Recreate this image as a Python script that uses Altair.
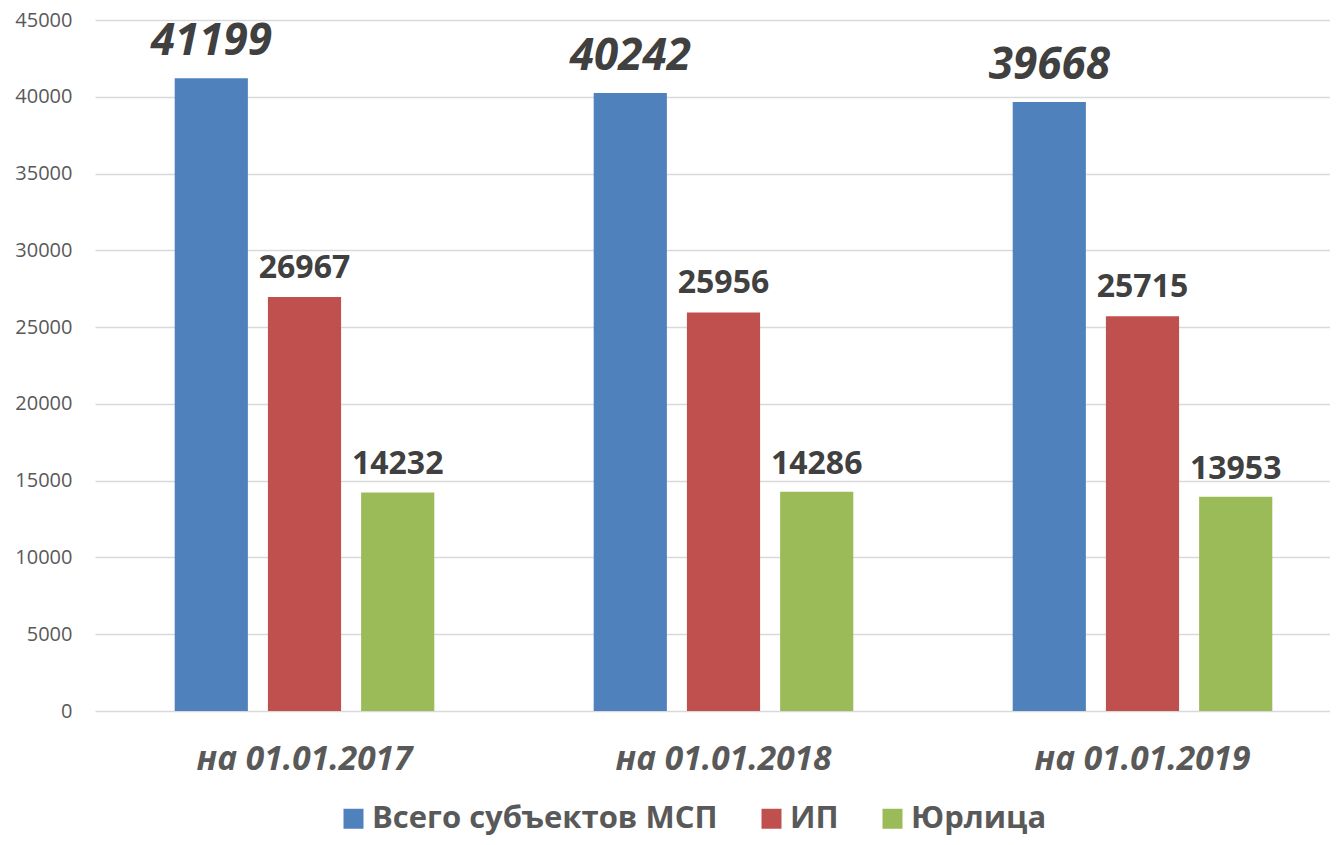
import altair as alt
import pandas as pd

categories = ["на 01.01.2017", "на 01.01.2018", "на 01.01.2019"]
series = ["Всего субъектов МСП", "ИП", "Юрлица"]
vals_total = [41199, 40242, 39668]
vals_ip = [26967, 25956, 25715]
vals_ul = [14232, 14286, 13953]
y_ticks = [0, 5000, 10000, 15000, 20000, 25000, 30000, 35000, 40000, 45000]
colors = ["#4F81BD", "#C0504D", "#9BBB59"]

rows = []
for s, vals in zip(series, [vals_total, vals_ip, vals_ul]):
    for c, v in zip(categories, vals):
        rows.append({"cat": c, "series": s, "value": v})
df = pd.DataFrame(rows)

FONT = "Open Sans"

x_enc = alt.X("cat:N", sort=categories, title=None,
              scale=alt.Scale(range=[0, 1257], paddingInner=0, paddingOuter=0),
              axis=alt.Axis(labelFont=FONT, labelFontSize=33.5, labelFontWeight="bold",
                            labelFontStyle="italic", labelColor="#595959",
                            labelPadding=32, domain=False, ticks=False, grid=False,
                            labelAngle=0, labelLimit=0))
xoff_enc = alt.XOffset("series:N", sort=series,
                       scale=alt.Scale(paddingInner=0.215, paddingOuter=0.855))
y_enc = alt.Y("value:Q", title=None,
              scale=alt.Scale(domain=[0, 45000], nice=False),
              axis=alt.Axis(values=y_ticks, format="d", labelFont=FONT, labelFontSize=20,
                            labelColor="#595959", labelPadding=23, domain=False,
                            ticks=False, gridColor="#d9d9d9", gridWidth=1.5))

bars = alt.Chart(df).mark_bar().encode(
    x=x_enc, xOffset=xoff_enc, y=y_enc,
    color=alt.Color("series:N", sort=series,
                    scale=alt.Scale(domain=series, range=colors),
                    legend=alt.Legend(title=None, orient="none", legendX=243, legendY=783,
                                      direction="horizontal", symbolType="square",
                                      symbolSize=400, symbolStrokeWidth=0,
                                      labelFont=FONT, labelFontSize=31,
                                      labelFontWeight="bold", labelColor="#595959",
                                      labelOffset=3, columnPadding=38, padding=0,
                                      labelLimit=0))
)

base_txt = alt.Chart(df).encode(
    x=alt.X("cat:N", sort=categories), xOffset=alt.XOffset("series:N", sort=series),
    y=alt.Y("value:Q"), text=alt.Text("value:Q", format="d"))

txt_total = base_txt.transform_filter(alt.datum.series == series[0]).mark_text(
    font=FONT, fontSize=44, fontWeight="bold", fontStyle="italic",
    color="#404040", baseline="alphabetic", dy=-23)
txt_ip = base_txt.transform_filter(alt.datum.series == series[1]).mark_text(
    font=FONT, fontSize=32, fontWeight="bold", color="#404040",
    baseline="alphabetic", dy=-19)
txt_ul = base_txt.transform_filter(alt.datum.series == series[2]).mark_text(
    font=FONT, fontSize=32, fontWeight="bold", color="#404040",
    baseline="alphabetic", dy=-18)

chart = alt.layer(bars, txt_total, txt_ip, txt_ul).properties(
    width=1235, height=691,
    autosize=alt.AutoSizeParams(type="none"),
    padding={"left": 87, "top": 12, "right": 0, "bottom": 126},
).configure_view(stroke=None)

chart.save("out.html", embed_options={"renderer": "svg", "actions": False})
